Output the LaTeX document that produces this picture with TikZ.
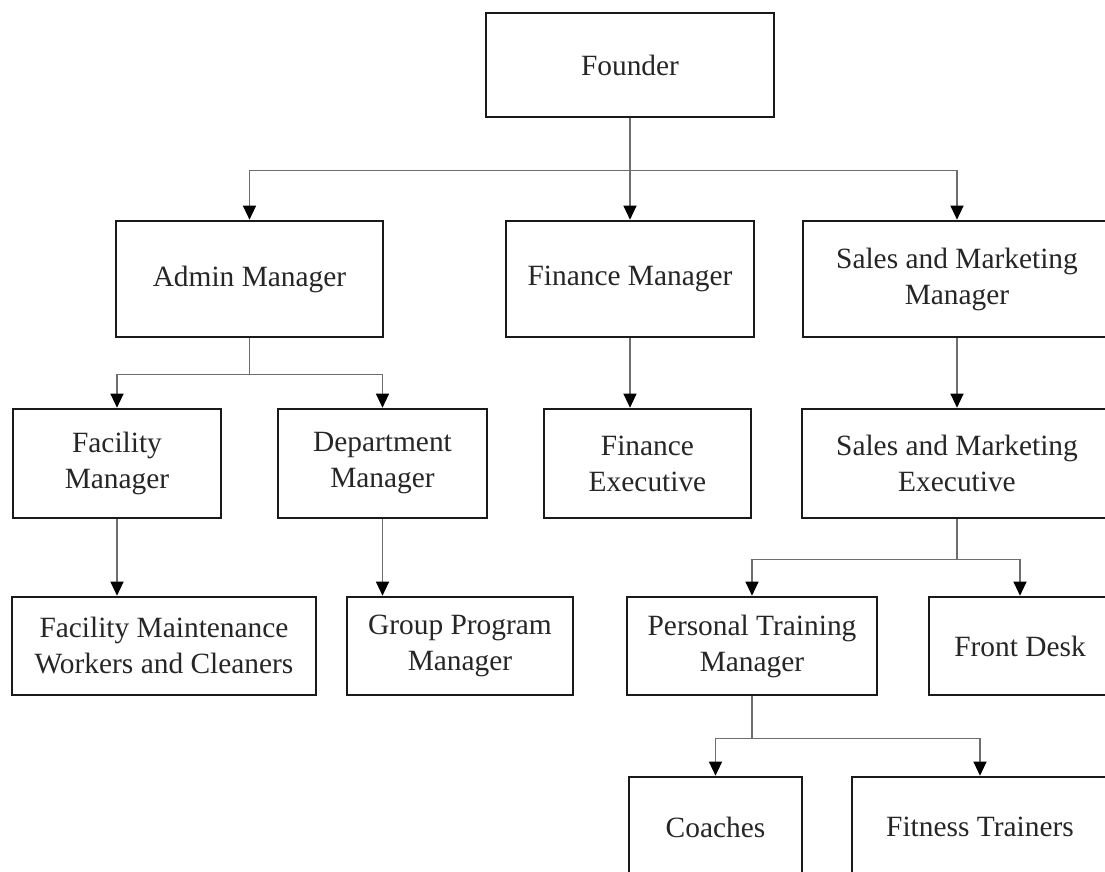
\documentclass[tikz,border=0pt]{standalone}
\usepackage{fontspec}
\setmainfont{Liberation Serif}
\usetikzlibrary{arrows.meta, positioning, calc}
\definecolor{linkgray}{HTML}{6E6E6E}
\definecolor{boxline}{HTML}{1A1A1A}

\begin{document}
\begin{tikzpicture}[
    x=0.5pt, y=-0.5pt,
    % ── Node styles ──────────────────────────────────────────────────────
    base/.style={
        draw=boxline, line width=1.3pt, fill=white,
        font=\fontsize{14.7}{18}\selectfont,
        align=center, inner sep=0pt, text=black!85
    },
    rolenode/.style={
        base, minimum width=#1
    },
    % ── Arrow style ──────────────────────────────────────────────────────
    arr/.style={
        -{Triangle[length=7pt, width=6.5pt, color=black]},
        line width=0.6pt, color=linkgray
    }
]

\useasboundingbox (0,0) rectangle (1105,872);
\fill[white] (0,0) rectangle (1105,872);
\clip (0,0) rectangle (1105,872);

% ═══════════════════════════════════════════════════════════════════════════
% Row 0 — Founder
% ═══════════════════════════════════════════════════════════════════════════
\node[rolenode=144pt, minimum height=52pt] (founder) at (630,65) {Founder};

% ═══════════════════════════════════════════════════════════════════════════
% Row 1 — Managers
% ═══════════════════════════════════════════════════════════════════════════
\node[rolenode=133.5pt, minimum height=58pt] (admin) at (249.5,279)
    {Admin Manager};
\node[rolenode=124pt, minimum height=58pt] (finmgr) at (630,279)
    {Finance Manager};
\node[rolenode=154pt, minimum height=58pt] (salesmgr) at (957,279)
    {Sales and Marketing\\Manager};

\draw[arr] (founder.south) -- ++(0,52) -| (admin.north);
\draw[arr] (founder.south) -- (finmgr.north);
\draw[arr] (founder.south) -- ++(0,52) -| (salesmgr.north);

% ═══════════════════════════════════════════════════════════════════════════
% Row 2 — Second level
% ═══════════════════════════════════════════════════════════════════════════
\node[rolenode=104pt, minimum height=54.5pt] (facmgr) at (117,463.5)
    {Facility\\Manager};
\node[rolenode=104.5pt, minimum height=54.5pt] (deptmgr) at (382.5,463.5)
    {Department\\Manager};
\node[rolenode=103.5pt, minimum height=54.5pt] (finexec) at (647.5,463.5)
    {Finance\\Executive};
\node[rolenode=155pt, minimum height=54.5pt] (salesexec) at (957,463.5)
    {Sales and Marketing\\Executive};

\draw[arr] (admin.south) -- ++(0,36) -| (facmgr.north);
\draw[arr] (admin.south) -- ++(0,36) -| (deptmgr.north);
\draw[arr] (finmgr.south) -- (finexec.north -| finmgr.south);
\draw[arr] (salesmgr.south) -- (salesexec.north);

% ═══════════════════════════════════════════════════════════════════════════
% Row 3 — Third level
% ═══════════════════════════════════════════════════════════════════════════
\node[rolenode=152pt, minimum height=49pt] (facwork) at (164,646)
    {Facility Maintenance\\Workers and Cleaners};
\node[rolenode=113pt, minimum height=49pt] (grpprog) at (460,646)
    {Group Program\\Manager};
\node[rolenode=125pt, minimum height=49pt] (ptmgr) at (752,646)
    {Personal Training\\Manager};
\node[rolenode=91pt, minimum height=49pt] (frontdesk) at (1020,646)
    {Front Desk};

\draw[arr] (facmgr.south) -- (facwork.north -| facmgr.south);
\draw[arr] (deptmgr.south) -- (grpprog.north -| deptmgr.south);
\draw[arr] (salesexec.south) -- ++(0,40) -| (ptmgr.north);
\draw[arr] (salesexec.south) -- ++(0,40) -| (frontdesk.north);

% ═══════════════════════════════════════════════════════════════════════════
% Row 4 — Trainers (cut by the lower edge)
% ═══════════════════════════════════════════════════════════════════════════
\node[rolenode=86.5pt, minimum height=50pt] (coaches) at (715.5,827)
    {Coaches};
\node[rolenode=128pt, minimum height=50pt] (fitness) at (980,827)
    {Fitness Trainers};

\draw[arr] (ptmgr.south) -- ++(0,42) -| (coaches.north);
\draw[arr] (ptmgr.south) -- ++(0,42) -| (fitness.north);

\end{tikzpicture}
\end{document}
